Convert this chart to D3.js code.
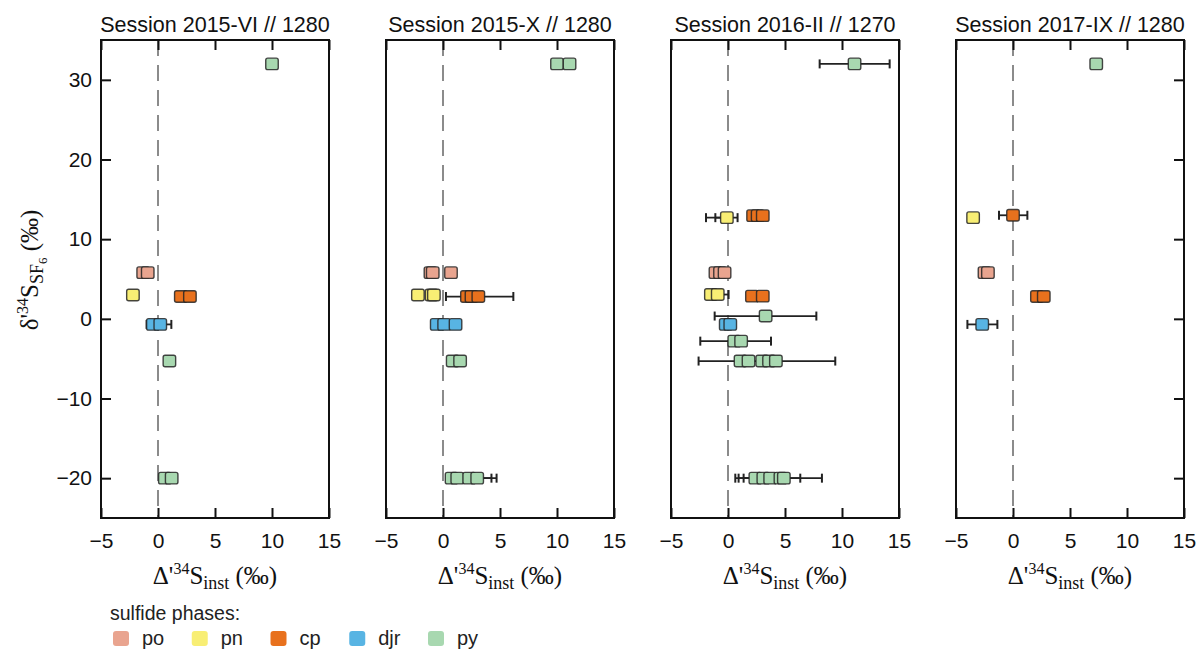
<!DOCTYPE html>
<html><head><meta charset="utf-8">
<script src="https://cdn.jsdelivr.net/npm/d3@7"></script>
<style>
body{margin:0;background:#fff;}
svg{display:block;}
</style></head><body>
<svg id="chart" width="1199" height="650"></svg>
<script>
// ---------- data ----------
const sessions = ["Session 2015-VI // 1280", "Session 2015-X // 1280", "Session 2016-II // 1270", "Session 2017-IX // 1280"];
const phases = ["po", "pn", "cp", "djr", "py"];
const phaseColors = ["#e9a48f", "#f8ee74", "#e8711d", "#58b4e3", "#a8d8b0"];
const xTicks = [-5, 0, 5, 10, 15];
const yTicks = [-20, -10, 0, 10, 20, 30];

// points: [phase, Δ'34S_inst, δ'34S_SF6]
const points2015VI = [
  ["py", 10.0, 32], ["po", -1.3, 5.8], ["po", -0.9, 5.8], ["pn", -2.2, 3.0],
  ["cp", 2.0, 2.8], ["cp", 2.8, 2.8], ["djr", -0.45, -0.7], ["djr", 0.2, -0.7],
  ["py", 1.0, -5.3], ["py", 0.6, -20], ["py", 1.2, -20]
];
const points2015X = [
  ["py", 10.0, 32], ["py", 11.1, 32], ["po", -1.1, 5.8], ["po", -0.9, 5.8], ["po", 0.7, 5.8],
  ["pn", -2.2, 3.0], ["pn", -1.0, 3.0], ["pn", -0.8, 3.0],
  ["cp", 2.1, 2.8], ["cp", 2.5, 2.8], ["cp", 3.1, 2.8],
  ["djr", -0.55, -0.7], ["djr", 0.1, -0.7], ["djr", 1.1, -0.7],
  ["py", 0.85, -5.3], ["py", 1.5, -5.3],
  ["py", 0.75, -20], ["py", 1.25, -20], ["py", 2.3, -20], ["py", 3.0, -20]
];
const points2016II = [
  ["py", 11.1, 32], ["pn", -0.1, 12.7], ["cp", 2.2, 12.95], ["cp", 2.6, 12.95], ["cp", 3.05, 12.95],
  ["po", -1.1, 5.8], ["po", -0.7, 5.8], ["po", -0.3, 5.8],
  ["pn", -1.5, 3.05], ["pn", -0.9, 3.05], ["cp", 2.1, 2.85], ["cp", 3.05, 2.85],
  ["py", 3.3, 0.35], ["djr", -0.2, -0.7], ["djr", 0.2, -0.7],
  ["py", 0.55, -2.8], ["py", 1.15, -2.8],
  ["py", 1.1, -5.3], ["py", 1.8, -5.3], ["py", 3.0, -5.3], ["py", 3.6, -5.3], ["py", 4.2, -5.3],
  ["py", 2.4, -20], ["py", 3.1, -20], ["py", 3.7, -20], ["py", 4.6, -20], ["py", 4.9, -20]
];
const points2017IX = [
  ["py", 7.3, 32], ["pn", -3.5, 12.7], ["cp", 0.0, 13.0], ["po", -2.5, 5.8], ["po", -2.2, 5.8],
  ["cp", 2.1, 2.8], ["cp", 2.7, 2.8], ["djr", -2.7, -0.7]
];

// error bars: [δ'34S_SF6, low, high]
const errors2015VI = [[-0.7, -1.0, 1.17]];
const errors2015X = [[2.8, 0.26, 6.17], [-20, 0.5, 4.25], [-20, 0.8, 4.7]];
const errors2016II = [
  [32, 8.04, 14.18], [12.7, -1.93, 0.84], [12.7, -1.11, 0.3], [3.05, -1.8, 0.05],
  [0.35, -1.17, 7.75], [-2.8, -2.43, 3.77], [-5.3, -2.58, 9.41],
  [-20, 0.64, 8.24], [-20, 0.93, 6.34], [-20, 1.37, 5.32]
];
const errors2017IX = [[13.0, -1.23, 1.26], [-0.7, -4.0, -1.37]];

const panelPoints = [points2015VI, points2015X, points2016II, points2017IX];
const panelErrors = [errors2015VI, errors2015X, errors2016II, errors2017IX];

// ---------- layout ----------
const svg = d3.select("#chart");
const panelLefts = [101, 386, 671, 956];
const pw = 228, topY = 40, bottomY = 518;
const sans = "'Liberation Sans', Arial, Helvetica, sans-serif";
const serif = "'Liberation Serif', 'Times New Roman', serif";
const color = d3.scaleOrdinal(phases, phaseColors);
const y = d3.scaleLinear().domain([-25, 35]).range([bottomY, topY]);
const fmt = d => d3.format("")(d);

sessions.forEach((title, i) => {
  const x = d3.scaleLinear().domain([-5, 15]).range([0, pw]);
  const g = svg.append("g").attr("transform", `translate(${panelLefts[i]},0)`);

  // dashed zero line
  g.append("line").attr("x1", x(0)).attr("x2", x(0)).attr("y1", topY).attr("y2", bottomY)
    .attr("stroke", "#666").attr("stroke-width", 1.5).attr("stroke-dasharray", "16,9");

  // axes
  const xb = g.append("g").attr("transform", `translate(0,${bottomY})`)
    .call(d3.axisBottom(x).tickValues(xTicks).tickSize(-10).tickPadding(15).tickFormat(fmt));
  const xt = g.append("g").attr("transform", `translate(0,${topY})`)
    .call(d3.axisTop(x).tickValues(xTicks).tickSize(-10).tickFormat(""));
  [xb, xt].forEach(a => { a.select(".domain").remove(); a.selectAll("line").attr("stroke", "#111").attr("stroke-width", 2); });
  xb.selectAll("text").attr("font-family", sans).attr("font-size", 21).attr("fill", "#111");

  if (i === 0) {
    const ya = g.append("g").call(d3.axisLeft(y).tickValues(yTicks).tickSize(-10).tickPadding(9).tickFormat(fmt));
    ya.select(".domain").remove();
    ya.selectAll("line").attr("stroke", "#111").attr("stroke-width", 2);
    ya.selectAll("text").attr("font-family", sans).attr("font-size", 21).attr("fill", "#111");
  }
  if (i === 3) {
    const ya = g.append("g").attr("transform", `translate(${pw},0)`)
      .call(d3.axisRight(y).tickValues(yTicks).tickSize(-10).tickFormat(""));
    ya.select(".domain").remove();
    ya.selectAll("line").attr("stroke", "#111").attr("stroke-width", 2);
  }

  // error bars
  const eb = g.append("g").selectAll("g").data(panelErrors[i]).join("g");
  eb.append("line").attr("x1", d => x(d[1])).attr("x2", d => x(d[2]))
    .attr("y1", d => y(d[0])).attr("y2", d => y(d[0])).attr("stroke", "#222").attr("stroke-width", 1.8);
  eb.append("line").attr("x1", d => x(d[1])).attr("x2", d => x(d[1]))
    .attr("y1", d => y(d[0]) - 4.5).attr("y2", d => y(d[0]) + 4.5).attr("stroke", "#222").attr("stroke-width", 2);
  eb.append("line").attr("x1", d => x(d[2])).attr("x2", d => x(d[2]))
    .attr("y1", d => y(d[0]) - 4.5).attr("y2", d => y(d[0]) + 4.5).attr("stroke", "#222").attr("stroke-width", 2);

  // squares
  const s = 12.5;
  g.append("g").selectAll("rect").data(panelPoints[i]).join("rect")
    .attr("x", d => x(d[1]) - s / 2).attr("y", d => y(d[2]) - s / 2 + 0.5)
    .attr("width", s).attr("height", s - 1).attr("rx", 2)
    .attr("fill", d => color(d[0])).attr("stroke", "#262626").attr("stroke-opacity", 0.85)
    .attr("stroke-width", 1.4);

  // frame
  g.append("rect").attr("x", 0).attr("y", topY).attr("width", pw).attr("height", bottomY - topY)
    .attr("fill", "none").attr("stroke", "#111").attr("stroke-width", 2);

  // title
  g.append("text").attr("x", pw / 2).attr("y", 32).attr("text-anchor", "middle")
    .attr("font-family", sans).attr("font-size", 21.5).attr("fill", "#111").text(title);

  // x label
  const xl = g.append("text").attr("x", pw / 2).attr("y", 584).attr("text-anchor", "middle")
    .attr("font-family", serif).attr("font-size", 25).attr("fill", "#111");
  xl.append("tspan").text("Δ'");
  xl.append("tspan").attr("font-size", 16).attr("dy", -10).text("34");
  xl.append("tspan").attr("dy", 10).text("S");
  xl.append("tspan").attr("font-size", 18).attr("dy", 5).text("inst");
  xl.append("tspan").attr("dy", -5).text(" (‰)");
});

// y label
const yl = svg.append("text").attr("transform", "translate(38,270) rotate(-90)")
  .attr("text-anchor", "middle").attr("font-family", serif).attr("font-size", 25).attr("fill", "#111");
yl.append("tspan").text("δ'");
yl.append("tspan").attr("font-size", 16).attr("dy", -10).text("34");
yl.append("tspan").attr("dy", 10).text("S");
yl.append("tspan").attr("font-size", 18).attr("dy", 5).text("SF");
yl.append("tspan").attr("font-size", 13).attr("dy", 4).text("6");
yl.append("tspan").attr("dy", -9).text(" (‰)");

// legend
const lg = svg.append("g");
lg.append("text").attr("x", 110).attr("y", 620).attr("font-family", sans).attr("font-size", 19.5)
  .attr("fill", "#222").text("sulfide phases:");
const legendX = d3.scalePoint().domain(phases).range([113, 428]);
const li = lg.selectAll("g.item").data(phases).join("g").attr("class", "item")
  .attr("transform", d => `translate(${legendX(d)},0)`);
li.append("rect").attr("x", 0).attr("y", 631).attr("width", 16).attr("height", 15).attr("rx", 3)
  .attr("fill", d => color(d));
li.append("text").attr("x", 29).attr("y", 645).attr("font-family", sans).attr("font-size", 20)
  .attr("fill", "#222").text(d => d);
</script>
</body></html>
